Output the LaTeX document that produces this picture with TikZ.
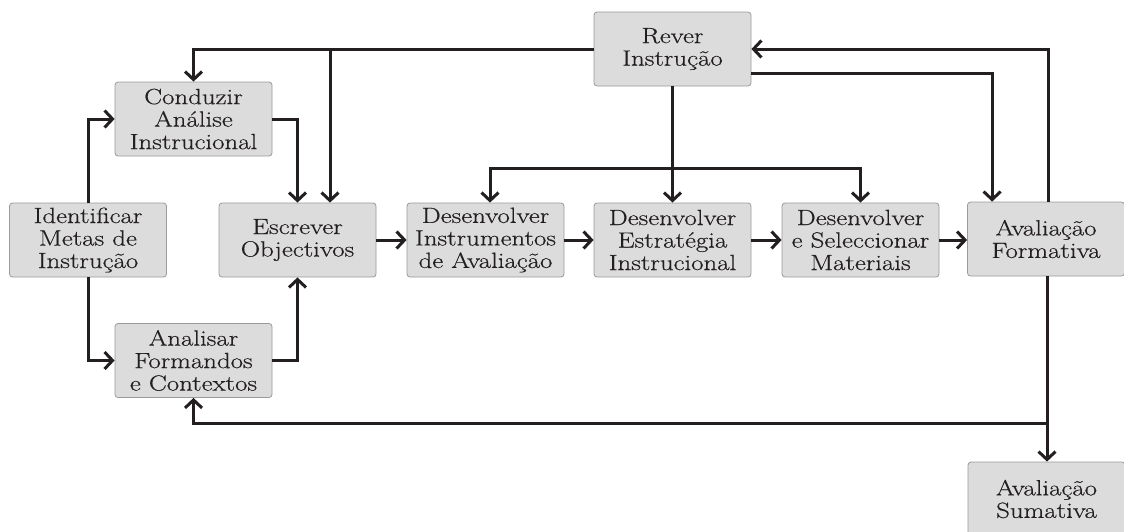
\documentclass[tikz,border=0pt]{standalone}
\usepackage{fontspec}
\setmainfont{Latin Modern Roman}[FakeStretch=1.22,FakeBold=0.5]
\usetikzlibrary{arrows.meta,calc}
\definecolor{ink}{HTML}{231F20}
\definecolor{boxfill}{HTML}{DCDCDC}
\definecolor{boxline}{HTML}{9A9A9A}
\begin{document}
\begin{tikzpicture}[x=1pt,y=-1pt,
  stepbox/.style={draw=boxline, line width=0.8pt, fill=boxfill, rounded corners=3pt,
    minimum width=157pt, minimum height=74pt, inner sep=2pt, align=center,
    text=ink, font=\fontsize{22}{22.5}\selectfont},
  arr/.style={draw=ink, line width=3pt, -{Straight Barb[length=8pt,width=17pt]}}]
\useasboundingbox (0,0) rectangle (1124,531);

% process steps
\node[stepbox] (iden)  at (88,240)    {Identificar\\Metas de\\Instrução};
\node[stepbox] (cond)  at (193.5,119) {Conduzir\\Análise\\Instrucional};
\node[stepbox] (anal)  at (193.5,360.5) {Analisar\\Formandos\\e Contextos};
\node[stepbox] (escr)  at (297.5,240) {Escrever\\Objectivos};
\node[stepbox] (instr) at (485.5,240) {Desenvolver\\Instrumentos\\de Avaliação};
\node[stepbox] (estr)  at (672.5,240) {Desenvolver\\Estratégia\\Instrucional};
\node[stepbox] (mat)   at (860.5,240) {Desenvolver\\e Seleccionar\\Materiais};
\node[stepbox] (form)  at (1046,239)  {Avaliação\\Formativa};
\node[stepbox] (rever) at (672.5,49)  {Rever\\Instrução};
\node[stepbox] (suma)  at (1046.5,499) {Avaliação\\Sumativa};

% junction points
\coordinate (jtop)  at (330,49);
\coordinate (jmid)  at (672.5,168);
\coordinate (jlow)  at (1047,423);

% main flow
\draw[arr] (iden.north) |- (cond.west);
\draw[arr] (iden.south) |- (anal.west);
\draw[arr] (cond.east) -| (escr.north);
\draw[arr] (anal.east) -| (escr.south);
\draw[arr] (escr) -- (instr);
\draw[arr] (instr) -- (estr);
\draw[arr] (estr) -- (mat);
\draw[arr] (mat.east) -- (mat.east -| form.west);

% revision loop
\draw[arr] (rever.west) -| (cond.north);
\draw[arr] (jtop) -- (jtop |- escr.north);
\draw[arr] (rever.south) -- (estr.north);
\draw[arr] (jmid) -| ($(instr.north)+(4.5,0)$);
\draw[arr] (jmid) -| (mat.north);
\draw[arr] ($(form.north)+(2,0)$) |- (rever.east);
\draw[arr] ($(rever.east)+(0,24)$) -| ($(form.north west)+(25,0)$);

% evaluation outputs
\draw[arr] (form.south -| jlow) -- (suma.north -| jlow);
\draw[arr] (jlow) -| (anal.south);
\end{tikzpicture}
\end{document}
